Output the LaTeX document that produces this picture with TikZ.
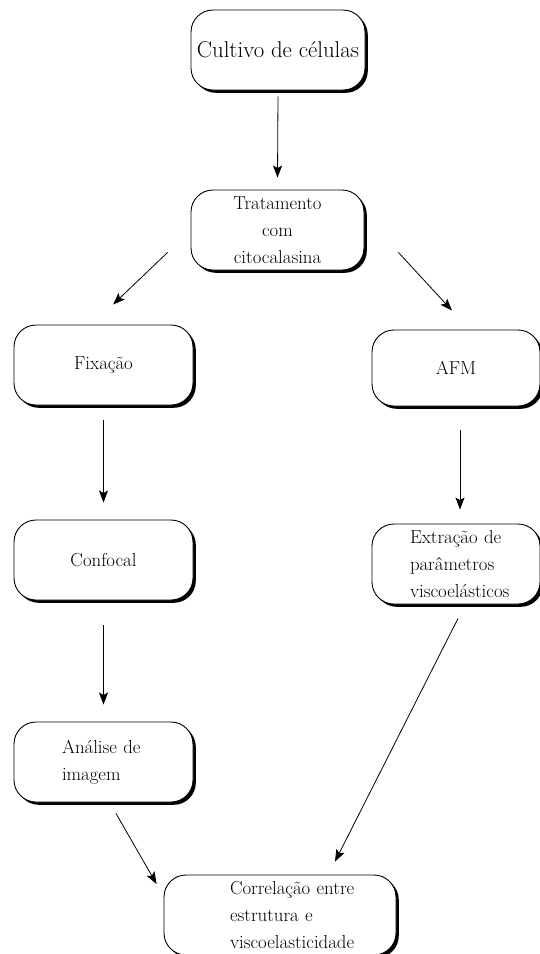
\documentclass[tikz,border=0pt]{standalone}
\usetikzlibrary{shadows,arrows.meta,calc}
\newcommand{\ind}[1]{\hspace*{#1pt}}
\begin{document}
\begin{tikzpicture}[x=1pt,y=-1pt,
  box/.style={draw=black, line width=0.9pt, fill=white, rounded corners=22pt,
    inner sep=0pt, minimum height=80pt,
    drop shadow={shadow xshift=2.8pt, shadow yshift=-2.8pt, fill=black, opacity=1},
    font=\fontsize{18.8}{27}\selectfont},
  arr/.style={draw=black, line width=0.8pt, -{Stealth[length=12pt,width=9pt,inset=2.5pt]}}]
\useasboundingbox (0,0) rectangle (539,954);

\node[box, minimum width=174pt, font=\fontsize{22.8}{27}\selectfont] (cultivo) at (278,50) {Cultivo de células};
\node[box, minimum width=173pt, align=center] (trat) at (277.5,230) {Tratamento\\com\\citocalasina};
\node[box, minimum width=179pt] (fix) at (103.5,365) {Fixação};
\node[box, minimum width=168pt, minimum height=76pt] (afm) at (456,368) {AFM};
\node[box, minimum width=179pt] (conf) at (103.5,560) {\raisebox{-4pt}{Confocal}};
\node[box, minimum width=168pt, text width=168pt, align=left] (extr) at (456,564)
  {\ind{38}Extração de\\\ind{38}parâmetros\\\ind{38}viscoelásticos};
\node[box, minimum width=179pt, text width=179pt, align=left] (anal) at (103.5,762)
  {\ind{48}Análise de\\\ind{48}imagem};
\node[box, minimum width=232pt, text width=232pt, align=left] (corr) at (280,915)
  {\ind{66}Correlação entre\\\ind{66}estrutura e\\\ind{66}viscoelasticidade};

\draw[arr] ($(cultivo.south)+(0,6)$) -- ($(trat.north)+(0,-12)$);
\draw[arr] ($(trat.south west)+(-23,-18)$) -- ($(fix.north)+(9.5,-20)$);
\draw[arr] ($(trat.south east)+(34,-18)$) -- ($(afm.north)+(-4,-19)$);
\draw[arr] ($(fix.south)+(0,15)$) -- ($(conf.north)+(0,-17)$);
\draw[arr] ($(afm.south)+(4,24)$) -- ($(extr.north)+(4,-14)$);
\draw[arr] ($(conf.south)+(0,25)$) -- ($(anal.north)+(0,-17)$);
\draw[arr] ($(anal.south)+(12.5,11)$) -- ($(corr.west)+(-7,-31)$);
\draw[arr] ($(extr.south)+(2,14)$) -- ($(corr.north)+(55,-13)$);
\end{tikzpicture}
\end{document}
